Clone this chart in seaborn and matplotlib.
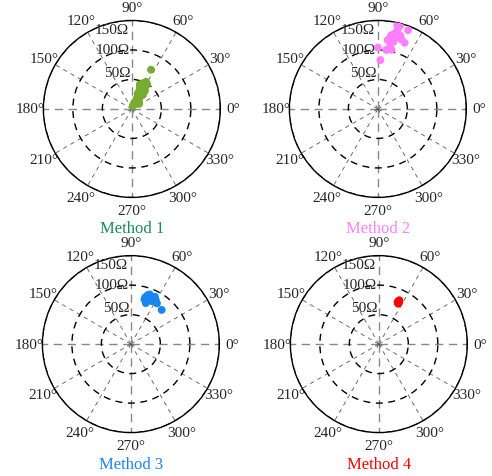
import numpy as np
import pandas as pd
import matplotlib
matplotlib.use("Agg")
import matplotlib.pyplot as plt
import seaborn as sns

# angulo (grados) y modulo (ohm) de cada punto
m1_ang = [64, 62.6, 64, 66.5, 70, 59.4, 61, 63, 67.6, 55, 66.8, 55, 65, 67, 72, 51,
          60, 58, 68, 62, 48, 35, 70, 64, 57, 61, 66, 59, 54, 52, 72, 69, 58, 63]
m1_mod = [74, 52, 47, 43, 40, 43, 39, 34, 31, 35, 26, 27, 20, 13, 5, 11,
          46, 40, 36, 30, 18, 15, 9, 24, 31, 50, 48, 22, 38, 30, 44, 28, 49, 45]

m2_ang = [90, 87, 82, 79, 79, 77, 75, 77, 73, 76, 75, 69, 77, 68, 77, 82, 71, 78, 76, 80]
m2_mod = [104, 83, 101, 111, 128, 132, 125, 117, 130, 140, 146, 143, 146, 121, 103, 118, 124, 122, 135, 126]

m3_ang = [48, 73, 69, 63, 64, 70, 57.4, 69, 64, 73, 67, 71, 66, 60]
m3_mod = [78, 83, 90, 90, 81, 74, 82, 84, 86, 79, 87, 88, 84, 85]

m4_ang = [65, 64.5, 65.5, 65, 64, 66, 65.2]
m4_mod = [78, 76, 80, 82, 79, 78, 77]

titulos = ["Method 1", "Method 2", "Method 3", "Method 4"]
color_puntos = ["#77ac30", "#ff80ff", "#1a84f0", "#ff0000"]
color_titulos = ["#1a8c5a", "#ff80ff", "#1a84f0", "#ff0000"]

sns.set_style("white")
plt.rcParams['font.family'] = ['Liberation Serif', 'DejaVu Serif']

fig = plt.figure(figsize=(4.92, 4.77), dpi=100)

# posiciones de los ejes (fraccion de figura)
posiciones = [[0.088, 0.584, 0.36, 0.371],
              [0.588, 0.584, 0.36, 0.371],
              [0.086, 0.091, 0.36, 0.371],
              [0.590, 0.091, 0.36, 0.371]]

datos = [(m1_ang, m1_mod), (m2_ang, m2_mod), (m3_ang, m3_mod), (m4_ang, m4_mod)]

for i, (ang, mod) in enumerate(datos):
    ax = fig.add_axes(posiciones[i], projection='polar')
    df = pd.DataFrame({'theta': np.deg2rad(ang), 'r': mod})
    sns.scatterplot(data=df, x='theta', y='r', ax=ax, color=color_puntos[i],
                    s=32, edgecolor='none', zorder=5, legend=False)
    ax.set_ylim(0, 150)
    ax.set_xlabel('')
    ax.set_ylabel('')
    ax.set_thetagrids(np.arange(0, 360, 30),
                      [f'{a}°' for a in range(0, 360, 30)], fontsize=11)
    ax.tick_params(axis='x', pad=-1)
    ax.set_rticks([50, 100, 150])
    ax.set_yticklabels([])
    # etiquetas de radio a la izquierda del eje de 90 grados
    for rv in [50, 100, 150]:
        ax.text(np.deg2rad(92), rv - 4 if rv == 150 else rv + 1, f'{rv}Ω', ha='right',
                va='top' if rv == 150 else 'center' if rv == 100 else 'bottom',
                fontsize=11)
    for gl in ax.yaxis.get_gridlines():
        gl.set_color('black')
        gl.set_linestyle((0, (5, 4)))
        gl.set_linewidth(1.0)
    for k, gl in enumerate(ax.xaxis.get_gridlines()):
        gl.set_color('#888888' if k % 3 == 0 else '#555555')
        gl.set_linestyle((0, (6, 4)) if k % 3 == 0 else (0, (5, 5)))
        gl.set_linewidth(1.0 if k % 3 == 0 else 0.6)
    ax.spines['polar'].set_color('black')
    ax.spines['polar'].set_linewidth(1.0)
    ax.grid(True)
    fig.text(posiciones[i][0] + posiciones[i][2] / 2, posiciones[i][1] - 0.065,
             titulos[i], color=color_titulos[i], ha='center', va='center', fontsize=12)

fig.savefig('out.png', dpi=100)
